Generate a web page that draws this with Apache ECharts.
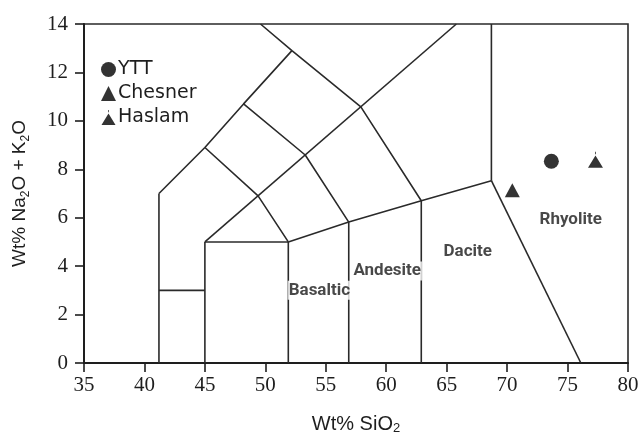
<!DOCTYPE html>
<html>
<head>
<meta charset="utf-8">
<script src="https://cdn.jsdelivr.net/npm/echarts@6/dist/echarts.min.js"></script>
<style>html,body{margin:0;padding:0;background:#fff}#c{width:641px;height:440px}</style>
</head>
<body>
<div id="c"></div>
<script>
// ---- data ----
const xTicks = [35, 40, 45, 50, 55, 60, 65, 70, 75, 80];
const yTicks = [0, 2, 4, 6, 8, 10, 12, 14];
const seriesNames = ['YTT', 'Chesner', 'Haslam'];
const yttData = [[73.66, 8.33]];
const chesnerData = [[70.43, 7.13]];
const haslamData = [[77.31, 8.31]];
// TAS field boundaries as polylines [SiO2, Na2O+K2O]
const boundaries = [
  [[41.2, 0], [41.2, 7]],
  [[41.2, 3], [45, 3]],
  [[45, 0], [45, 5]],
  [[45, 5], [51.9, 5]],
  [[51.9, 0], [51.9, 5]],
  [[56.9, 0], [56.9, 5.82]],
  [[62.9, 0], [62.9, 6.7]],
  [[51.9, 5], [56.9, 5.82], [62.9, 6.7], [68.7, 7.53]],
  [[68.7, 7.53], [68.7, 14]],
  [[68.7, 7.53], [76.1, 0]],
  [[41.2, 7], [45, 8.9], [48.2, 10.7], [52.2, 12.9]],
  [[45, 5], [65.8, 14]],
  [[45, 8.9], [49.4, 6.9], [51.9, 5]],
  [[48.2, 10.7], [53.3, 8.59], [56.9, 5.82]],
  [[49.6, 14], [52.2, 12.9], [57.9, 10.58], [62.9, 6.7]]
];
const fieldLabels = [
  [54.47, 3.0, 'Basaltic'],
  [60.08, 3.8, 'Andesite'],
  [66.74, 4.6, 'Dacite'],
  [75.26, 5.9, 'Rhyolite']
];
// ---- chart ----
const chart = echarts.init(document.getElementById('c'));
const ink = '#1e1e1e';
const haslamSymbol = 'path://M7.1,0 L7.9,0 L7.9,2.4 L7.1,2.4 Z M7.5,3.6 L15,16 L0,16 Z';
const series = [];
boundaries.forEach(function (pl) {
  series.push({
    type: 'line', data: pl, symbol: 'none', silent: true, z: 2,
    lineStyle: { color: '#2a2a2a', width: 1.6 }, animation: false
  });
});
series.push({
  type: 'scatter', data: fieldLabels.map(function (d) { return [d[0], d[1], d[2]]; }),
  symbolSize: 0, silent: true, z: 3, animation: false,
  label: {
    show: true, position: 'inside', formatter: function (p) { return p.data[2]; },
    fontFamily: 'Roboto', fontWeight: 'bold', fontSize: 17, color: '#1a1a1a',
    backgroundColor: '#fff', padding: [1, 1]
  }
});
series.push({
  name: seriesNames[0], type: 'scatter', data: yttData, symbol: 'circle', symbolSize: 15,
  itemStyle: { color: '#000' }, z: 5, animation: false
});
series.push({
  name: seriesNames[1], type: 'scatter', data: chesnerData, symbol: 'triangle', symbolSize: [15, 14],
  itemStyle: { color: '#000' }, z: 5, animation: false
});
series.push({
  name: seriesNames[2], type: 'scatter', data: haslamData, symbol: haslamSymbol, symbolSize: [15, 16],
  symbolOffset: [0, -2], itemStyle: { color: '#000' }, z: 5, animation: false
});
chart.setOption({
  animation: false,
  grid: { left: 84, right: 13, top: 24, bottom: 77, outerBoundsMode: 'none', containLabel: false,
    show: true, borderColor: '#2a2a2a', borderWidth: 1.6, backgroundColor: 'transparent' },
  legend: {
    data: seriesNames, orient: 'vertical', left: 96, top: 55, itemWidth: 15, itemHeight: 15, itemGap: 5,
    textStyle: { fontFamily: 'DejaVu Sans', fontSize: 19, color: ink, padding: [0, 0, 0, -3] },
    selectedMode: false
  },
  xAxis: {
    type: 'value', min: xTicks[0], max: xTicks[xTicks.length - 1], interval: 5,
    name: 'Wt% SiO{s|2}', nameLocation: 'middle', nameGap: 50,
    nameTextStyle: { fontFamily: 'Liberation Sans', fontSize: 20, color: ink, lineHeight: 22,
      rich: { s: { fontFamily: 'Liberation Sans', fontSize: 13, color: ink, verticalAlign: 'bottom', lineHeight: 12 } } },
    axisLine: { lineStyle: { color: ink, width: 2 } },
    axisTick: { length: 9, lineStyle: { color: ink, width: 1.6 } },
    axisLabel: { fontFamily: 'Liberation Serif', fontSize: 21, color: ink, margin: 12 },
    splitLine: { show: false }
  },
  yAxis: {
    type: 'value', min: yTicks[0], max: yTicks[yTicks.length - 1], interval: 2,
    name: 'Wt% Na{s|2}O + K{s|2}O', nameLocation: 'middle', nameGap: 52,
    nameTextStyle: { fontFamily: 'Liberation Sans', fontSize: 19, color: ink, lineHeight: 24,
      rich: { s: { fontFamily: 'Liberation Sans', fontSize: 12, color: ink, verticalAlign: 'bottom', lineHeight: 12 } } },
    axisLine: { lineStyle: { color: ink, width: 2 } },
    axisTick: { length: 9, lineStyle: { color: ink, width: 1.6 } },
    axisLabel: { fontFamily: 'Liberation Serif', fontSize: 21, color: ink, margin: 16 },
    splitLine: { show: false }
  },
  series: series
});
</script>
</body>
</html>
